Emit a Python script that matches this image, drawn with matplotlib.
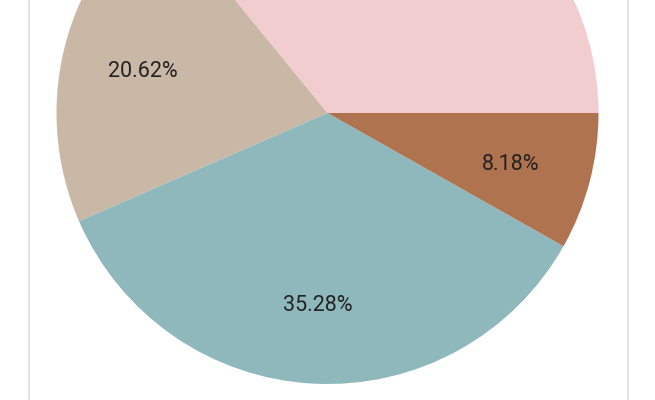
import matplotlib
matplotlib.use("Agg")
import matplotlib.pyplot as plt
from matplotlib.lines import Line2D

labels = ["Pink", "Beige", "Teal", "Brown"]
values = [35.92, 20.62, 35.28, 8.18]
colors = ["#f2cdd0", "#c9b8a6", "#8fb8bd", "#b07350"]

W, H = 655, 400
fig = plt.figure(figsize=(W / 100, H / 100), dpi=100)
fig.patch.set_facecolor("white")

cx, cy, r = 327.5, 113, 271
ax = fig.add_axes([(cx - r) / W, (H - cy - r) / H, 2 * r / W, 2 * r / H])
wedges, texts, autotexts = ax.pie(
    values, colors=colors, startangle=0, counterclock=True,
    autopct="%.2f%%", pctdistance=0.7,
    textprops={"fontsize": 15.5, "color": "#222222", "family": ["Roboto", "DejaVu Sans"]},
    wedgeprops={"linewidth": 0},
)
for t in autotexts:
    x, y = t.get_position()
    t.set_position((x, y - 0.012))
ax.set_xlim(-1, 1)
ax.set_ylim(-1, 1)
ax.set_aspect("equal")
ax.axis("off")

for x in (28.5, 627.5):
    fig.add_artist(Line2D([x / W, x / W], [0, 1], color="#dddddd", linewidth=1.2,
                          transform=fig.transFigure))

fig.savefig("out.png", dpi=100)
